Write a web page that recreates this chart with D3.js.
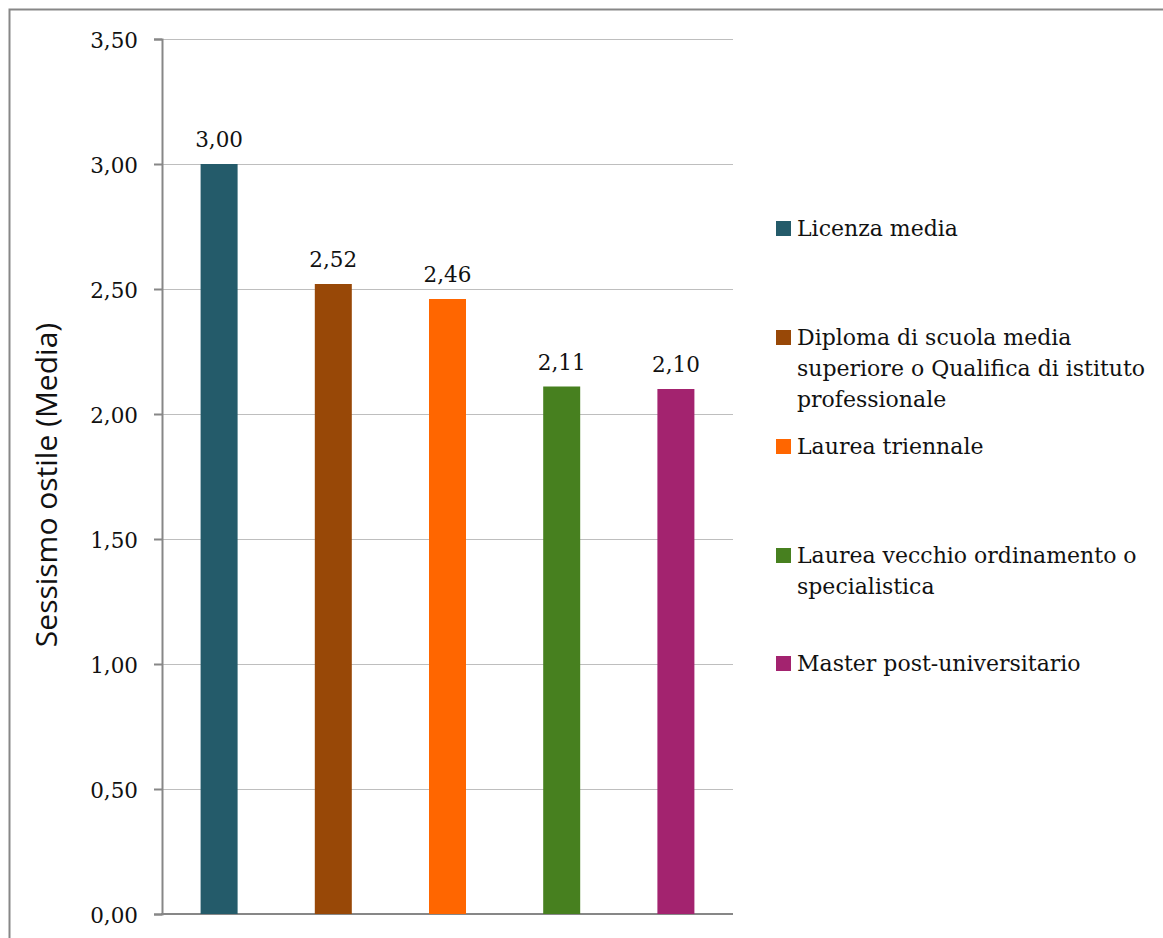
<!DOCTYPE html>
<html>
<head>
<meta charset="utf-8">
<script src="https://cdn.jsdelivr.net/npm/d3@7"></script>
<style>
  html, body { margin: 0; padding: 0; background: #fff; }
  svg { display: block; }
</style>
</head>
<body>
<svg id="chart" width="1163" height="938"></svg>
<script>
// Education levels and mean hostile-sexism scores
const categories = [
  "Licenza media",
  "Diploma di scuola media superiore o Qualifica di istituto professionale",
  "Laurea triennale",
  "Laurea vecchio ordinamento o specialistica",
  "Master post-universitario"
];
const values = [3.00, 2.52, 2.46, 2.11, 2.10];
const colors = ["#245B6A", "#984807", "#FF6600", "#47801F", "#A3236F"];
const tickValues = [0, 0.5, 1, 1.5, 2, 2.5, 3, 3.5];
const legendLines = [
  ["Licenza media"],
  ["Diploma di scuola media", "superiore o Qualifica di istituto", "professionale"],
  ["Laurea triennale"],
  ["Laurea vecchio ordinamento o", "specialistica"],
  ["Master post-universitario"]
];
const yTitle = "Sessismo ostile (Media)";

const serif = "'DejaVu Serif', serif";
const fmt = v => v.toFixed(2).replace(".", ",");

const svg = d3.select("#chart");

// outer frame
svg.append("rect")
  .attr("x", 9.5).attr("y", 9.5)
  .attr("width", 1200).attr("height", 1000)
  .attr("fill", "none").attr("stroke", "#878787").attr("stroke-width", 2);

const plot = { left: 162, right: 733, top: 39, bottom: 914 };

const y = d3.scaleLinear().domain([0, 3.5]).range([plot.bottom, plot.top]);
const x = d3.scaleBand().domain(categories)
  .range([plot.left, plot.right])
  .paddingInner(0.676).paddingOuter(0.338);

// horizontal gridlines
svg.append("g")
  .selectAll("line")
  .data(tickValues.filter(t => t > 0))
  .join("line")
  .attr("x1", plot.left).attr("x2", plot.right)
  .attr("y1", d => Math.round(y(d)) + 0.5).attr("y2", d => Math.round(y(d)) + 0.5)
  .attr("stroke", "#BEBEBE").attr("stroke-width", 1);

// y axis
const yAxis = svg.append("g")
  .attr("transform", `translate(${plot.left},0)`)
  .call(d3.axisLeft(y).tickValues(tickValues).tickFormat(fmt).tickSize(8).tickPadding(16));
yAxis.select(".domain").attr("stroke", "#878787").attr("stroke-width", 2);
yAxis.selectAll(".tick line").attr("stroke", "#878787").attr("stroke-width", 2);
yAxis.selectAll(".tick text")
  .attr("font-family", serif).attr("font-size", 21.5).attr("fill", "#111")
  .attr("dy", "0.4em");

// x baseline
svg.append("line")
  .attr("x1", plot.left - 1).attr("x2", plot.right)
  .attr("y1", plot.bottom).attr("y2", plot.bottom)
  .attr("stroke", "#878787").attr("stroke-width", 2);

// bars
svg.append("g")
  .selectAll("rect")
  .data(values)
  .join("rect")
  .attr("x", (d, i) => x(categories[i]))
  .attr("width", x.bandwidth())
  .attr("y", d => y(d))
  .attr("height", d => plot.bottom - y(d))
  .attr("fill", (d, i) => colors[i]);

// value labels
svg.append("g")
  .selectAll("text")
  .data(values)
  .join("text")
  .attr("x", (d, i) => x(categories[i]) + x.bandwidth() / 2)
  .attr("y", d => y(d) - 17)
  .attr("text-anchor", "middle")
  .attr("font-family", serif).attr("font-size", 21.5).attr("fill", "#111")
  .text(fmt);

// y axis title
svg.append("text")
  .attr("transform", "translate(57,485) rotate(-90)")
  .attr("text-anchor", "middle")
  .attr("font-family", "'Liberation Sans Narrow', 'Open Sans', sans-serif")
  .attr("font-size", 30).attr("fill", "#111")
  .text(yTitle);

// legend
const legendTop = [221, 330, 439, 548, 656];
const legend = svg.append("g");
legendLines.forEach((lines, i) => {
  const g = legend.append("g").attr("transform", `translate(776,${legendTop[i]})`);
  g.append("rect").attr("width", 15).attr("height", 15).attr("fill", colors[i]);
  const t = g.append("text")
    .attr("font-family", serif).attr("font-size", 22).attr("fill", "#111");
  lines.forEach((ln, j) => {
    t.append("tspan").attr("x", 21).attr("y", 15 + j * 31).text(ln);
  });
});
</script>
</body>
</html>
